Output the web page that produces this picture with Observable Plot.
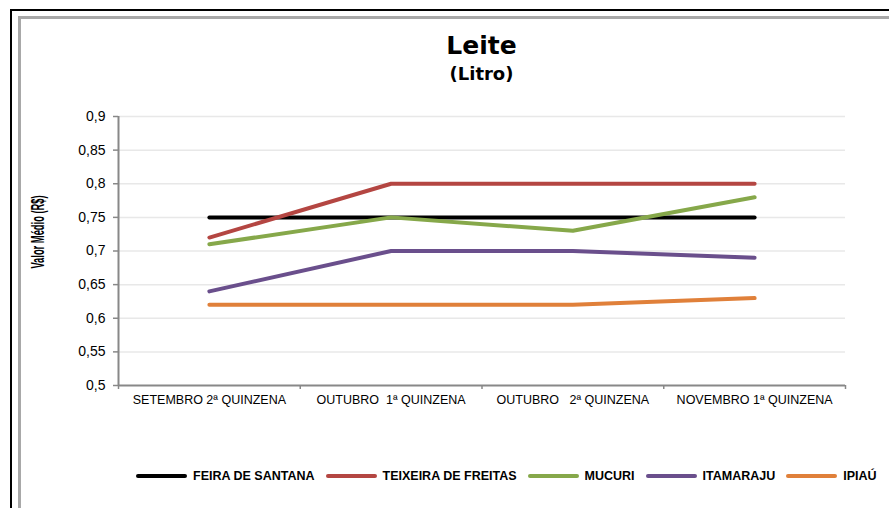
<!DOCTYPE html>
<html>
<head>
<meta charset="utf-8">
<script src="https://cdn.jsdelivr.net/npm/d3@7"></script>
<script src="https://cdn.jsdelivr.net/npm/@observablehq/plot@0.6"></script>
<style>
  html, body { margin: 0; padding: 0; background: #fff; }
  #wrap { position: relative; width: 889px; height: 508px; overflow: hidden; background: #fff; font-family: "Liberation Sans", Arial, sans-serif; }
  #frameOuter { position: absolute; left: 10px; top: 9px; width: 900px; height: 520px; border-left: 2px solid #000; border-top: 2px solid #000; }
  #frameInner { position: absolute; left: 18px; top: 16px; width: 900px; height: 520px; border-left: 3px solid #a8a8a8; border-top: 3px solid #a8a8a8; }
  #title { position: absolute; left: 0; width: 963px; top: 31px; text-align: center; font-family: "DejaVu Sans", Verdana, sans-serif; font-weight: bold; font-size: 25px; color: #000; }
  #subtitle { position: absolute; left: 0; width: 963px; top: 63px; text-align: center; font-family: "DejaVu Sans", Verdana, sans-serif; font-weight: bold; font-size: 18px; color: #000; }
  #chart { position: absolute; left: 0; top: 0; }
  #legend { position: absolute; top: 469px; left: 136px; display: flex; align-items: center; white-space: nowrap; font-family: "Liberation Sans", Arial, sans-serif; font-weight: bold; font-size: 12.5px; color: #000; }
  .item { display: flex; align-items: center; margin-right: 11px; }
  .sw { display: inline-block; width: 51px; height: 4px; margin-right: 6px; border-radius: 2px; }
</style>
</head>
<body>
<div id="wrap">
  <div id="frameOuter"></div>
  <div id="frameInner"></div>
  <div id="chart"></div>
  <div id="title">Leite</div>
  <div id="subtitle">(Litro)</div>
  <div id="legend"></div>
</div>
<script>
const categories = [
  "SETEMBRO 2ª QUINZENA",
  "OUTUBRO\u00a0\u00a01ª QUINZENA",
  "OUTUBRO\u00a0\u00a0\u00a02ª QUINZENA",
  "NOVEMBRO 1ª QUINZENA"
];
const seriesNames = ["FEIRA DE SANTANA", "TEIXEIRA DE FREITAS", "MUCURI", "ITAMARAJU", "IPIAÚ"];
const seriesColors = ["#000000", "#b44642", "#86a84a", "#6a4f8c", "#e0803a"];
const feiraDeSantana = [0.75, 0.75, 0.75, 0.75];
const teixeiraDeFreitas = [0.72, 0.80, 0.80, 0.80];
const mucuri = [0.71, 0.75, 0.73, 0.78];
const itamaraju = [0.64, 0.70, 0.70, 0.69];
const ipiau = [0.62, 0.62, 0.62, 0.63];
const yTicks = [0.5, 0.55, 0.6, 0.65, 0.7, 0.75, 0.8, 0.85, 0.9];
const yLabel = "Valor Médio (R$)";

const seriesValues = [feiraDeSantana, teixeiraDeFreitas, mucuri, itamaraju, ipiau];
const data = [];
seriesNames.forEach((s, si) => {
  seriesValues[si].forEach((v, i) => data.push({series: s, idx: i, value: v}));
});
const boundaries = d3.range(categories.length + 1).map(i => i - 0.5);
const fmt = d => String(+d.toFixed(2)).replace(".", ",");

const chart = Plot.plot({
  width: 889,
  height: 420,
  marginLeft: 118,
  marginRight: 44,
  marginTop: 116,
  marginBottom: 35,
  style: {background: "transparent", fontFamily: "Liberation Sans, Arial, sans-serif"},
  x: {domain: [-0.5, categories.length - 0.5]},
  y: {domain: [0.5, 0.9]},
  color: {domain: seriesNames, range: seriesColors},
  marks: [
    Plot.ruleY(yTicks.filter(t => t > 0.5), {y: d => d, stroke: "#e8e8e8", strokeWidth: 1.5}),
    Plot.axisY({ticks: yTicks, tickFormat: fmt, tickSize: 5, tickPadding: 8, stroke: "#888", strokeWidth: 1.5, fontSize: 14, fill: "#000", label: null}),
    Plot.ruleX([-0.5], {stroke: "#888", strokeWidth: 2}),
    Plot.ruleY([0.5], {stroke: "#888", strokeWidth: 2}),
    Plot.axisX({ticks: boundaries, tickFormat: () => "", tickSize: 4, stroke: "#888", strokeWidth: 1.5, label: null}),
    Plot.axisX({ticks: d3.range(categories.length), tickFormat: i => categories[i], tickSize: 0, tickPadding: 10, fontSize: 12.5, fill: "#000", label: null}),
    Plot.line(data, {x: "idx", y: "value", z: "series", stroke: "series", strokeWidth: 4, strokeLinecap: "round", strokeLinejoin: "round"})
  ]
});
document.getElementById("chart").appendChild(chart);

// Condensed rotated y-axis label
const svg = d3.select(chart);
svg.append("text")
  .attr("transform", "translate(44,232) rotate(-90) scale(0.52,1)")
  .attr("text-anchor", "middle")
  .attr("font-family", "Liberation Sans, Arial, sans-serif")
  .attr("font-weight", "bold")
  .attr("font-size", 18)
  .attr("fill", "#000")
  .text(yLabel);

const legend = document.getElementById("legend");
seriesNames.forEach((s, i) => {
  const it = document.createElement("div");
  it.className = "item";
  const sw = document.createElement("span");
  sw.className = "sw";
  sw.style.background = seriesColors[i];
  const tx = document.createElement("span");
  tx.textContent = s;
  it.appendChild(sw);
  it.appendChild(tx);
  legend.appendChild(it);
});
</script>
</body>
</html>
